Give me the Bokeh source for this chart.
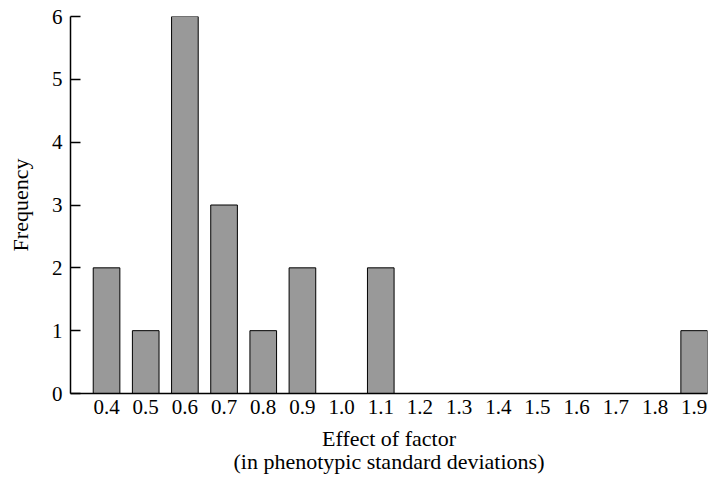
from bokeh.plotting import figure
from bokeh.models import FixedTicker, Range1d
from bokeh.embed import file_html
from bokeh.resources import INLINE

effect_labels = ["0.4", "0.5", "0.6", "0.7", "0.8", "0.9", "1.0", "1.1",
                 "1.2", "1.3", "1.4", "1.5", "1.6", "1.7", "1.8", "1.9"]
frequency = [2, 1, 6, 3, 1, 2, 0, 2, 0, 0, 0, 0, 0, 0, 0, 1]
y_ticks = [0, 1, 2, 3, 4, 5, 6]

x_vals = [float(s) for s in effect_labels]
bx = [x for x, f in zip(x_vals, frequency) if f > 0]
bf = [f for f in frequency if f > 0]

FONT = "Liberation Serif"

p = figure(width=708, height=477, output_backend="svg", toolbar_location=None,
           x_range=Range1d(0.308, 1.934), y_range=Range1d(0, 6),
           min_border_left=70, min_border_top=16, min_border_right=1,
           min_border_bottom=83)

p.vbar(x=bx, top=bf, bottom=0, width=0.068, fill_color="#999999",
       line_color="black", line_width=1)

p.outline_line_color = None
p.xgrid.grid_line_color = None
p.ygrid.grid_line_color = None
p.background_fill_color = "white"
p.border_fill_color = "white"

# x axis
p.xaxis.ticker = FixedTicker(ticks=x_vals)
p.xaxis.major_label_overrides = {x: s for x, s in zip(x_vals, effect_labels)}
p.xaxis.major_tick_line_color = None
p.xaxis.minor_tick_line_color = None
p.xaxis.major_tick_in = 0
p.xaxis.major_tick_out = 0
p.xaxis.major_label_standoff = 6
p.xaxis.axis_label = "Effect of factor\n(in phenotypic standard deviations)"
p.xaxis.axis_label_standoff = 9
p.xaxis.axis_label_text_font = FONT
p.xaxis.axis_label_text_font_style = "normal"
p.xaxis.axis_label_text_font_size = "22px"
p.xaxis.axis_label_text_line_height = 0.95
p.xaxis.axis_label_text_align = "center"
p.xaxis.axis_label_text_color = "black"
p.xaxis.major_label_text_font = FONT
p.xaxis.major_label_text_font_size = "21px"
p.xaxis.major_label_text_color = "black"
p.xaxis.axis_line_color = "black"
p.xaxis.axis_line_width = 1.5

# y axis
p.yaxis.ticker = FixedTicker(ticks=y_ticks)
p.yaxis.major_tick_in = 10
p.yaxis.major_tick_out = 0
p.yaxis.minor_tick_line_color = None
p.yaxis.major_tick_line_color = "black"
p.yaxis.major_tick_line_width = 1.5
p.yaxis.major_label_standoff = 8
p.yaxis.axis_label = "Frequency"
p.yaxis.axis_label_standoff = 16
p.yaxis.axis_label_text_font = FONT
p.yaxis.axis_label_text_font_style = "normal"
p.yaxis.axis_label_text_font_size = "22px"
p.yaxis.axis_label_text_color = "black"
p.yaxis.major_label_text_font = FONT
p.yaxis.major_label_text_font_size = "21px"
p.yaxis.major_label_text_color = "black"
p.yaxis.axis_line_color = "black"
p.yaxis.axis_line_width = 1.5

open("out.html", "w").write(file_html(p, INLINE))
